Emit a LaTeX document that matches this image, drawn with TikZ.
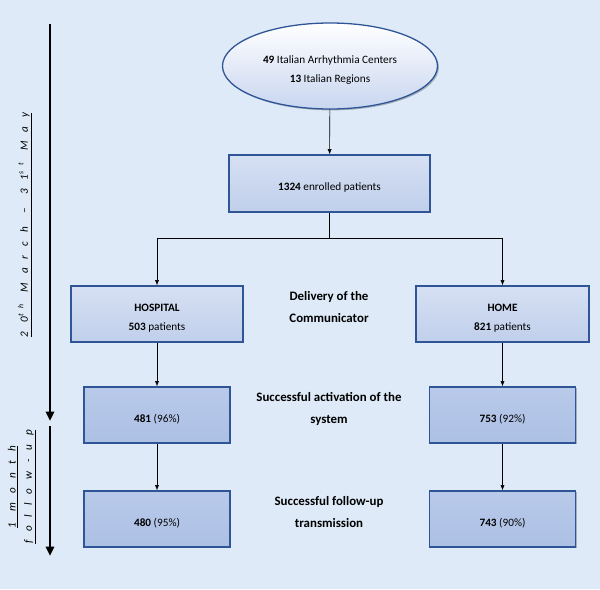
\documentclass[tikz,border=0pt]{standalone}
\usepackage{fontspec}
\setmainfont{Carlito}
\newfontfamily\spaced[LetterSpace=80]{Carlito}
\usetikzlibrary{arrows.meta,shadows,shapes.geometric}
\definecolor{bgblue}{RGB}{222,234,247}
\definecolor{lineblue}{RGB}{47,85,151}
\definecolor{lightfill}{RGB}{214,224,243}
\definecolor{midfill}{RGB}{192,207,235}
\definecolor{darkfill}{RGB}{172,192,229}
\definecolor{ellfill}{RGB}{200,214,240}
\newcommand{\lowstrut}{\rule{0pt}{13.5pt}}
\begin{document}
\begin{tikzpicture}[x=0.03cm,y=-0.03cm,
  txt/.style={font=\fontsize{9.6}{16.5}\selectfont,align=center},
  shad/.style={drop shadow={shadow xshift=1.2pt,shadow yshift=-1.2pt,opacity=0.25,fill=black}},
  upper/.style={txt,shad,rectangle,draw=lineblue,line width=1.1pt,
    top color=lightfill,bottom color=midfill,minimum height=1.68cm},
  lower/.style={txt,shad,rectangle,draw=lineblue,line width=1.1pt,
    top color=darkfill!85!white,bottom color=darkfill,minimum height=1.68cm,
    minimum width=4.38cm},
  step label/.style={font=\fontsize{11}{19.5}\selectfont\bfseries,align=center},
  flow/.style={-{Latex[length=4.5pt,width=3.5pt]},line width=0.5pt},
  time/.style={-{Triangle[length=8pt,width=7pt]},line width=2.4pt}]
\useasboundingbox (0,0) rectangle (600,589);
\fill[bgblue] (0,0) rectangle (600,589);

\node (centers) at (330,66) [ellipse,draw=lineblue,line width=1.1pt,shad,
  top color=white,bottom color=ellfill,minimum width=6.45cm,minimum height=2.58cm,txt]
  {\lowstrut\textbf{49} Italian Arrhythmia Centers\\\textbf{13} Italian Regions};
\node (enrolled) at (329.5,183.5) [upper,minimum width=6.03cm,minimum height=1.71cm]
  {\lowstrut\textbf{1324} enrolled patients};
\coordinate (split) at (329.5,238);
\node (hosp) at (157,314) [upper,minimum width=5.16cm] {\lowstrut\textbf{HOSPITAL}\\\textbf{503} patients};
\node (home) at (502.5,314) [upper,minimum width=5.19cm] {\lowstrut\textbf{HOME}\\\textbf{821} patients};
\node (hospact) at (157,415) [lower] {\lowstrut\textbf{481} (96\%)};
\node (homeact) at (502.5,415) [lower] {\lowstrut\textbf{753} (92\%)};
\node (hospfu) at (157,519) [lower] {\lowstrut\textbf{480} (95\%)};
\node (homefu) at (502.5,519) [lower] {\lowstrut\textbf{743} (90\%)};

\node (delivery) at (329,307) [step label] {Delivery of the\\Communicator};
\node (activation) at (329,409) [step label] {Successful activation of the\\system};
\node (transmission) at (329,512) [step label] {Successful follow-up\\transmission};

\draw[flow] (centers) -- (enrolled);
\draw[line width=0.5pt] (enrolled) -- (split);
\draw[flow] (split) -| (hosp); \draw[flow] (split) -| (home);
\draw[flow] (hosp) -- (hospact); \draw[flow] (hospact) -- (hospfu);
\draw[flow] (home) -- (homeact); \draw[flow] (homeact) -- (homefu);

% time line on the left
\coordinate (t0) at (50,24); \coordinate (t1) at (50,421);
\coordinate (t2) at (50,426); \coordinate (t3) at (50,556);
\draw[time] (t0) -- (t1); \draw[time] (t2) -- (t3);
\node (period) at (25,225) [rotate=90,font=\fontsize{9.5}{10}\selectfont\spaced\itshape]
  {\underline{20\textsuperscript{th} March \,–\, 31\textsuperscript{st} May}};
\node (followup) at (22,487) [rotate=90,align=center,font=\fontsize{9.5}{14}\selectfont\spaced\itshape]
  {\underline{1 month}\\\underline{follow-up}};
\end{tikzpicture}
\end{document}
